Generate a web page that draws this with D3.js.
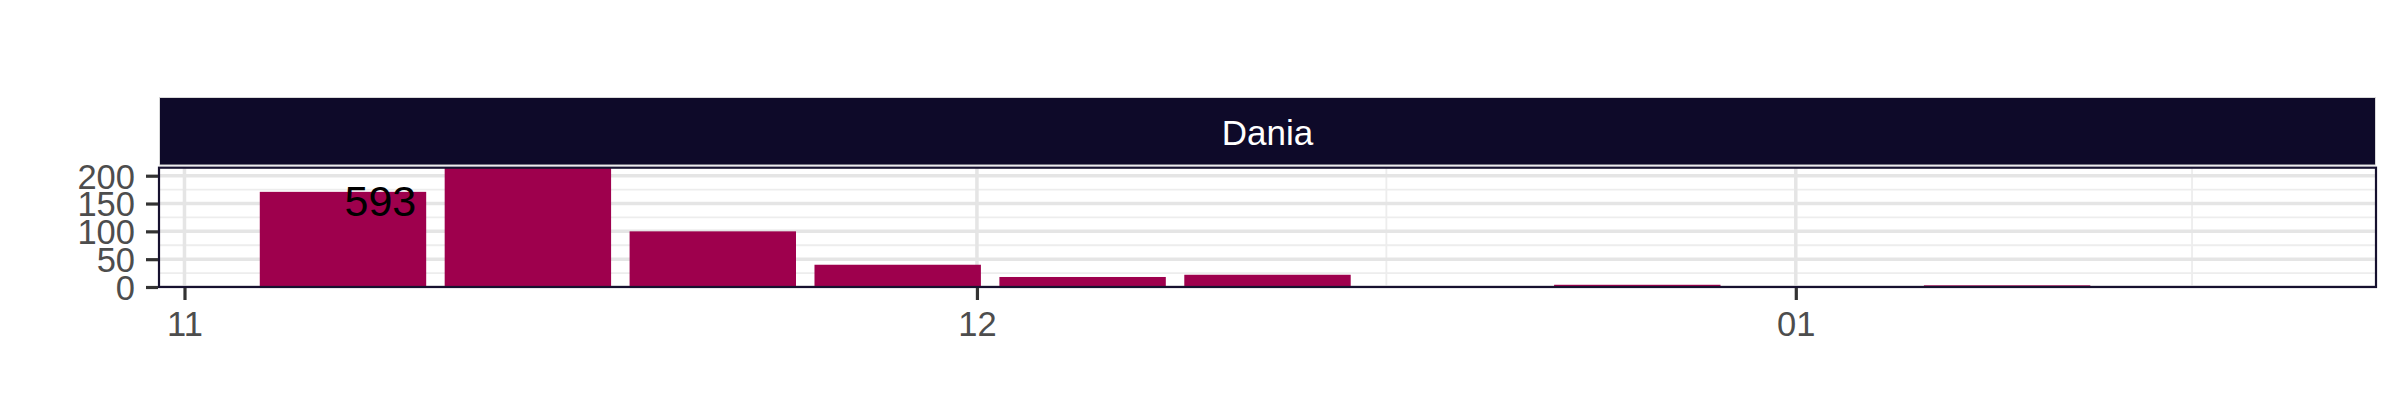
<!DOCTYPE html>
<html>
<head>
<meta charset="utf-8">
<script src="https://cdn.jsdelivr.net/npm/d3@7/dist/d3.min.js"></script>
<style>
  html, body { margin: 0; padding: 0; background: #ffffff; }
  svg { display: block; }
  text { font-family: "Liberation Sans", Arial, sans-serif; }
</style>
</head>
<body>
<svg id="chart" width="2400" height="420"></svg>
<script>
// ---------------- data ----------------
const facetLabel = "Dania";
const weekDates = ["2021-11-07", "2021-11-14", "2021-11-21", "2021-11-28", "2021-12-05",
                   "2021-12-12", "2021-12-19", "2021-12-26", "2022-01-02", "2022-01-09", "2022-01-16"];
const weekCounts = [171, 232, 100, 40, 18, 22, 1, 4, 1, 3, 1];
const xTickDates = ["2021-11-01", "2021-12-01", "2022-01-01"];
const xTickLabels = ["11", "12", "01"];
const xMinorDates = ["2021-11-16", "2021-12-16T12:00:00Z", "2022-01-16"];
const yTicks = [0, 50, 100, 150, 200];
const yMinorTicks = [25, 75, 125, 175];
const yMax = 214.4;
const totalAnnotationDate = "2021-11-08T10:00:00Z";
const totalAnnotationValue = 156;

// ---------------- layout ----------------
const DAY = 86400000;
const panel = { left: 159, right: 2376, top: 167.7, bottom: 287 };
const strip = { top: 97.5, bottom: 165 };
const barWidthDays = 6.3;

const parse = s => new Date(s.length === 10 ? s + "T00:00:00Z" : s);
const data = weekDates.map((d, i) => ({ date: parse(d), value: weekCounts[i] }));

const lo = d3.min(data, d => +d.date) - barWidthDays / 2 * DAY;
const hi = d3.max(data, d => +d.date) + barWidthDays / 2 * DAY;
const pad = (hi - lo) * 0.05;

const x = d3.scaleUtc().domain([new Date(lo - pad), new Date(hi + pad)]).range([panel.left, panel.right]);
const y = d3.scaleLinear().domain([0, yMax]).range([panel.bottom, panel.top]);

const svg = d3.select("#chart");
svg.append("rect").attr("width", 2400).attr("height", 420).attr("fill", "#ffffff");

// strip
svg.append("rect")
  .attr("x", panel.left + 0.5).attr("y", strip.top)
  .attr("width", panel.right - panel.left - 1).attr("height", strip.bottom - strip.top)
  .attr("fill", "#0E0A29").attr("stroke", "#D9D9D9").attr("stroke-width", 1);
svg.append("text")
  .attr("x", (panel.left + panel.right) / 2).attr("y", 144.7)
  .attr("text-anchor", "middle").attr("fill", "#ffffff")
  .attr("font-size", 35).text(facetLabel);

// panel background
svg.append("rect")
  .attr("x", panel.left).attr("y", panel.top)
  .attr("width", panel.right - panel.left).attr("height", panel.bottom - panel.top)
  .attr("fill", "#ffffff");

svg.append("clipPath").attr("id", "pclip").append("rect")
  .attr("x", panel.left).attr("y", panel.top)
  .attr("width", panel.right - panel.left).attr("height", panel.bottom - panel.top);

const g = svg.append("g").attr("clip-path", "url(#pclip)");

// grid
g.selectAll(".ymin").data(yMinorTicks).enter().append("line")
  .attr("x1", panel.left).attr("x2", panel.right)
  .attr("y1", d => y(d)).attr("y2", d => y(d))
  .attr("stroke", "#EDEDED").attr("stroke-width", 1.8);
g.selectAll(".xmin").data(xMinorDates.map(parse)).enter().append("line")
  .attr("y1", panel.top).attr("y2", panel.bottom)
  .attr("x1", d => x(d)).attr("x2", d => x(d))
  .attr("stroke", "#EDEDED").attr("stroke-width", 1.8);
g.selectAll(".ymaj").data(yTicks).enter().append("line")
  .attr("x1", panel.left).attr("x2", panel.right)
  .attr("y1", d => y(d)).attr("y2", d => y(d))
  .attr("stroke", "#E5E5E5").attr("stroke-width", 3.5);
g.selectAll(".xmaj").data(xTickDates.map(parse)).enter().append("line")
  .attr("y1", panel.top).attr("y2", panel.bottom)
  .attr("x1", d => x(d)).attr("x2", d => x(d))
  .attr("stroke", "#E5E5E5").attr("stroke-width", 3.5);

// bars
g.selectAll(".bar").data(data).enter().append("rect")
  .attr("x", d => x(new Date(+d.date - barWidthDays / 2 * DAY)))
  .attr("width", d => x(new Date(+d.date + barWidthDays / 2 * DAY)) - x(new Date(+d.date - barWidthDays / 2 * DAY)))
  .attr("y", d => y(d.value))
  .attr("height", d => y(0) - y(d.value))
  .attr("fill", "#9E004D");

// total annotation
g.append("text")
  .attr("x", x(parse(totalAnnotationDate)))
  .attr("y", y(totalAnnotationValue))
  .attr("dy", "0.36em")
  .attr("text-anchor", "middle").attr("fill", "#000000")
  .attr("font-size", 43)
  .text(d3.sum(weekCounts));

// panel border
svg.append("rect")
  .attr("x", panel.left).attr("y", panel.top)
  .attr("width", panel.right - panel.left).attr("height", panel.bottom - panel.top)
  .attr("fill", "none").attr("stroke", "#16112F").attr("stroke-width", 2.2);

// axes
const xAxis = d3.axisBottom(x)
  .tickValues(xTickDates.map(parse))
  .tickFormat((d, i) => xTickLabels[i])
  .tickSize(12).tickPadding(12);
const xg = svg.append("g").attr("transform", `translate(0,${panel.bottom + 1})`).call(xAxis);
xg.select(".domain").remove();
xg.selectAll(".tick line").attr("stroke", "#333333").attr("stroke-width", 3.2);
xg.selectAll(".tick text").attr("fill", "#4D4D4D").attr("font-size", 34.5)
  .attr("font-family", "Liberation Sans, Arial, sans-serif");

const yAxis = d3.axisLeft(y).tickValues(yTicks).tickSize(12).tickPadding(11);
const yg = svg.append("g").attr("transform", `translate(${panel.left - 1},0)`).call(yAxis);
yg.select(".domain").remove();
yg.selectAll(".tick line").attr("stroke", "#333333").attr("stroke-width", 3.2);
yg.selectAll(".tick text").attr("fill", "#4D4D4D").attr("font-size", 34.5)
  .attr("dy", "0.36em")
  .attr("font-family", "Liberation Sans, Arial, sans-serif");
</script>
</body>
</html>
